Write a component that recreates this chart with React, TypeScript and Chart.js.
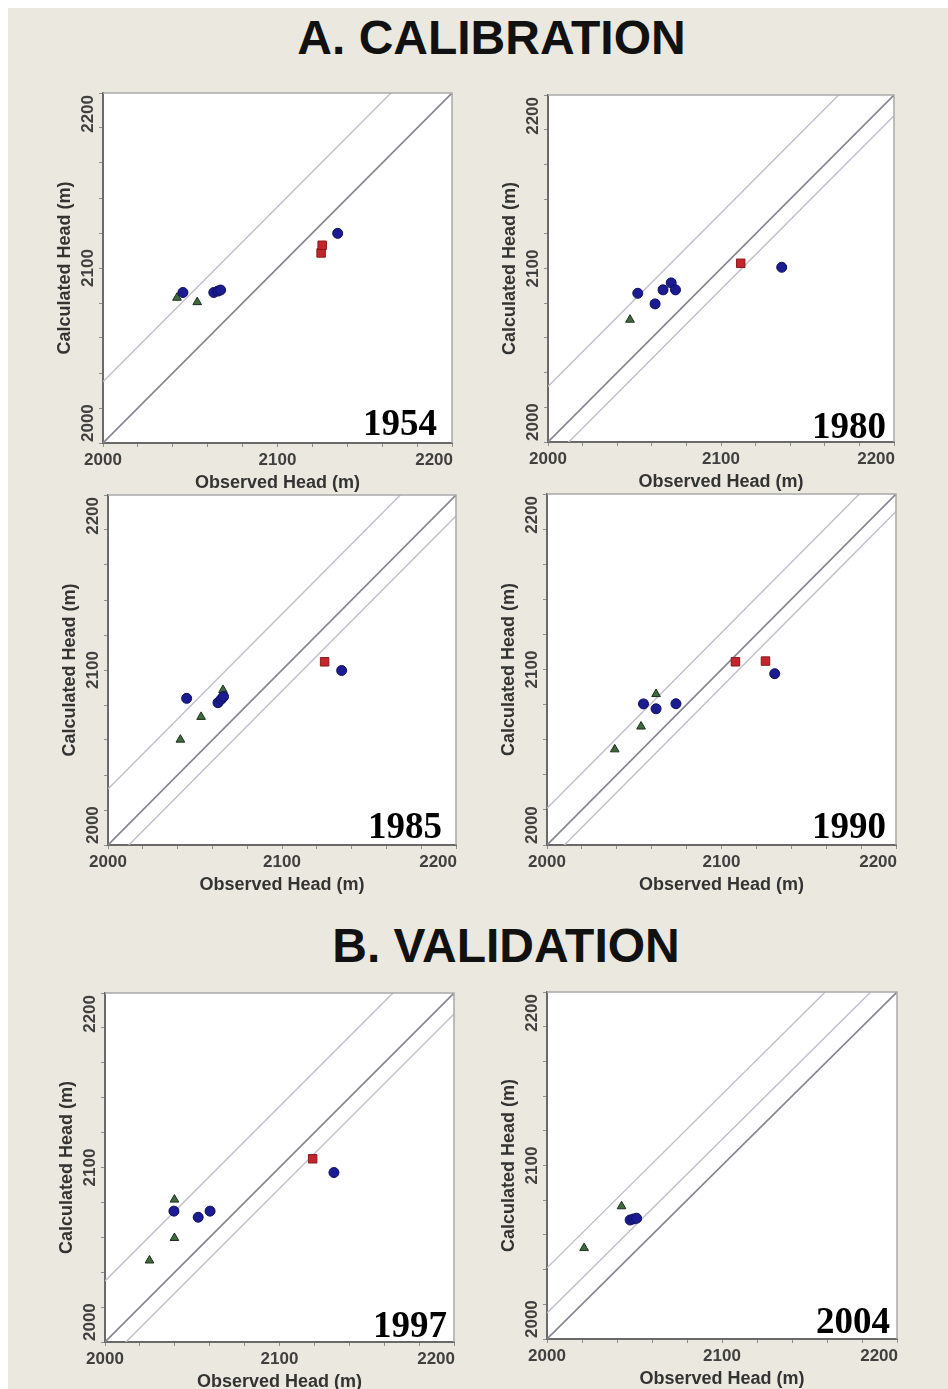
import React, { useEffect, useRef } from 'react';
import { Chart, registerables } from 'chart.js';

Chart.register(...registerables);

// ---------------- data: [observed head, calculated head] (m) ----------------
const axisMin = 2000;
const axisMax = 2200;
const majorTicks = [2000, 2100, 2200];
const minorStep = 20;
const xAxisTitle = 'Observed Head (m)';
const yAxisTitle = 'Calculated Head (m)';
const sectionTitles = ['A. CALIBRATION', 'B. VALIDATION'];
const years = ['1954', '1980', '1985', '1990', '1997', '2004'];

const circles1954 = [[2045.8, 2086.0], [2063.5, 2086.0], [2065.8, 2086.8], [2067.4, 2087.4], [2134.5, 2119.8]];
const squares1954 = [[2125.0, 2108.6], [2125.6, 2113.0]];
const triangles1954 = [[2042.4, 2083.0], [2054.0, 2080.5]];
const bands1954 = [35, 0];

const circles1980 = [[2051.9, 2085.7], [2061.9, 2079.6], [2066.5, 2087.7], [2071.2, 2091.7], [2073.7, 2087.7], [2135.1, 2100.7]];
const squares1980 = [[2111.4, 2103.0]];
const triangles1980 = [[2047.4, 2070.5]];
const bands1980 = [32, 0, -12];

const circles1985 = [[2045.2, 2083.8], [2063.2, 2081.3], [2065.1, 2083.3], [2066.4, 2084.8], [2134.3, 2099.7]];
const squares1985 = [[2124.5, 2104.7]];
const triangles1985 = [[2066.1, 2088.6], [2053.5, 2073.2], [2041.6, 2060.2]];
const bands1985 = [32, 0, -12];

const circles1990 = [[2055.3, 2080.4], [2062.5, 2077.6], [2073.9, 2080.5], [2130.5, 2097.6]];
const squares1990 = [[2108.0, 2104.4], [2125.2, 2104.8]];
const triangles1990 = [[2062.5, 2086.0], [2053.9, 2067.5], [2038.8, 2054.5]];
const bands1990 = [21, 0, -10];

const circles1997 = [[2039.5, 2075.0], [2053.4, 2071.5], [2060.2, 2075.0], [2131.2, 2097.1]];
const squares1997 = [[2119.0, 2105.0]];
const triangles1997 = [[2039.8, 2081.6], [2039.8, 2059.6], [2025.5, 2046.7]];
const bands1997 = [35, 0, -12];

const circles2004 = [[2047.5, 2068.6], [2049.5, 2069.2], [2051.2, 2069.6]];
const squares2004: number[][] = [];
const triangles2004 = [[2042.6, 2076.5], [2021.2, 2052.4]];
const bands2004 = [41, 15, 0];

// ---------------- layout / style ----------------
const PAD_L = 50;
const PAD_T = 8;
const PAD_R = 6;
const PAD_B = 51;
const SANS = '"Liberation Sans", Arial, Helvetica, sans-serif';
const SERIF = '"Liberation Serif", "Times New Roman", serif';
const BG = '#EBE9DF';
const TICK_FONT = 'bold 17px ' + SANS;
const TICK_COLOR = '#404040';

const panels = [
  { year: years[0], circles: circles1954, squares: squares1954, triangles: triangles1954, bands: bands1954, plot: { l: 103, t: 93, w: 350, h: 350 }, yr: { r: 15, b: 8 } },
  { year: years[1], circles: circles1980, squares: squares1980, triangles: triangles1980, bands: bands1980, plot: { l: 548, t: 95, w: 347, h: 347 }, yr: { r: 8, b: 4 } },
  { year: years[2], circles: circles1985, squares: squares1985, triangles: triangles1985, bands: bands1985, plot: { l: 108, t: 495, w: 349, h: 350 }, yr: { r: 14, b: 7 } },
  { year: years[3], circles: circles1990, squares: squares1990, triangles: triangles1990, bands: bands1990, plot: { l: 547, t: 494, w: 350, h: 351 }, yr: { r: 10, b: 7 } },
  { year: years[4], circles: circles1997, squares: squares1997, triangles: triangles1997, bands: bands1997, plot: { l: 105, t: 993, w: 350, h: 349 }, yr: { r: 7, b: 5 } },
  { year: years[5], circles: circles2004, squares: squares2004, triangles: triangles2004, bands: bands2004, plot: { l: 547, t: 992, w: 350, h: 347 }, yr: { r: 7, b: 6 } },
];

const toXY = (arr: number[][]) => arr.map(([x, y]) => ({ x, y }));

function Panel({ cfg }: { cfg: any }) {
  const ref = useRef<HTMLCanvasElement | null>(null);
  const W = cfg.plot.w + PAD_L + PAD_R;
  const H = cfg.plot.h + PAD_T + PAD_B;

  useEffect(() => {
    if (!ref.current) return;
    const decor = {
      id: 'panelDecor',
      beforeDraw(chart: any) {
        const { ctx, chartArea: a } = chart;
        ctx.save();
        ctx.fillStyle = '#ffffff';
        ctx.fillRect(a.left, a.top, a.right - a.left, a.bottom - a.top);
        ctx.restore();
      },
      afterDraw(chart: any) {
        const { ctx, chartArea: a } = chart;
        const xs = chart.scales.x;
        const ys = chart.scales.y;
        ctx.save();
        // light top/right frame
        ctx.strokeStyle = '#a9a9a9';
        ctx.lineWidth = 1.5;
        ctx.beginPath();
        ctx.moveTo(a.left, a.top);
        ctx.lineTo(a.right, a.top);
        ctx.lineTo(a.right, a.bottom);
        ctx.stroke();
        ctx.font = TICK_FONT;
        ctx.fillStyle = TICK_COLOR;
        // x tick labels: centred on tick, last one kept inside the frame
        ctx.textBaseline = 'top';
        ctx.textAlign = 'center';
        majorTicks.forEach((v) => {
          const label = String(v);
          const w = ctx.measureText(label).width;
          let px = xs.getPixelForValue(v);
          px = Math.min(a.right + 1 - w / 2, px);
          ctx.fillText(label, px, a.bottom + 9);
        });
        // rotated y tick labels, kept inside the frame
        ctx.textBaseline = 'middle';
        majorTicks.forEach((v) => {
          const label = String(v);
          const w = ctx.measureText(label).width;
          let py = ys.getPixelForValue(v);
          py = Math.max(a.top + 2 + w / 2, Math.min(a.bottom - 1 - w / 2, py));
          ctx.save();
          ctx.translate(a.left - 15, py);
          ctx.rotate(-Math.PI / 2);
          ctx.fillText(label, 0, 0);
          ctx.restore();
        });
        // year label
        ctx.font = 'bold 37px ' + SERIF;
        ctx.fillStyle = '#000000';
        ctx.textAlign = 'right';
        ctx.textBaseline = 'alphabetic';
        ctx.fillText(cfg.year, a.right - cfg.yr.r, a.bottom - cfg.yr.b);
        ctx.restore();
      },
    };

    const markerSets = [
      { data: toXY(cfg.circles), pointStyle: 'circle', pointRadius: 5, backgroundColor: '#1b1b92', borderColor: '#0f0f5c', borderWidth: 1 },
      { data: toXY(cfg.squares), pointStyle: 'rect', pointRadius: 6, backgroundColor: '#c3252b', borderColor: '#8a1a1e', borderWidth: 1 },
      { data: toXY(cfg.triangles), pointStyle: 'triangle', pointRadius: 5, backgroundColor: '#3d6b3d', borderColor: '#1e2e1e', borderWidth: 1 },
    ];
    const lineSets = cfg.bands.map((off: number) => ({
      data: [{ x: axisMin, y: axisMin + off }, { x: axisMax, y: axisMax + off }],
      showLine: true,
      pointRadius: 0,
      borderColor: off === 0 ? '#85858f' : '#c0bdcb',
      borderWidth: off === 0 ? 1.6 : 1.4,
      fill: false,
    }));

    const scaleCommon = {
      type: 'linear',
      min: axisMin,
      max: axisMax,
      grid: { display: true, drawOnChartArea: false, drawTicks: true, tickLength: 4, color: '#8f8f8f', lineWidth: 1 },
      border: { display: true, color: '#6a6a6a', width: 2 },
    };

    const chart = new Chart(ref.current, {
      type: 'scatter',
      data: { datasets: [...markerSets, ...lineSets] as any },
      options: {
        animation: false,
        responsive: false,
        devicePixelRatio: 1,
        layout: { padding: { top: PAD_T, right: PAD_R, left: 0, bottom: 0 } },
        plugins: { legend: { display: false }, tooltip: { enabled: false } },
        scales: {
          x: {
            ...scaleCommon,
            afterFit: (s: any) => { s.height = PAD_B; },
            ticks: { display: false, autoSkip: false, stepSize: minorStep },
            title: { display: true, text: xAxisTitle, color: '#333333', font: { size: 18, weight: 'bold', family: SANS }, padding: { top: 0, bottom: 0 } },
          },
          y: {
            ...scaleCommon,
            afterFit: (s: any) => { s.width = PAD_L; },
            ticks: { display: false, autoSkip: false, stepSize: minorStep },
            title: { display: true, text: yAxisTitle, color: '#333333', font: { size: 18, weight: 'bold', family: SANS }, padding: { top: 1, bottom: 0 } },
          },
        } as any,
      },
      plugins: [decor],
    } as any);
    return () => chart.destroy();
  }, []);

  return (
    <canvas
      ref={ref}
      width={W}
      height={H}
      style={{ position: 'absolute', left: cfg.plot.l - PAD_L - 8, top: cfg.plot.t - PAD_T - 8, width: W, height: H }}
    />
  );
}

const titleStyle: React.CSSProperties = {
  position: 'absolute',
  transform: 'translateX(-50%)',
  whiteSpace: 'nowrap',
  font: 'bold 48px ' + SANS,
  lineHeight: '48px',
  color: '#111111',
};

export default function App() {
  return (
    <div style={{ position: 'fixed', left: 0, top: 0, width: 948, height: 1389, background: '#ffffff', overflow: 'hidden' }}>
      <div style={{ position: 'absolute', left: 8, top: 8, width: 940, height: 1381, background: BG, overflow: 'hidden' }}>
        <div style={{ ...titleStyle, left: 483.5, top: 6 }}>{sectionTitles[0]}</div>
        <div style={{ ...titleStyle, left: 498, top: 914 }}>{sectionTitles[1]}</div>
        {panels.map((p) => (
          <Panel key={p.year} cfg={p} />
        ))}
      </div>
    </div>
  );
}
